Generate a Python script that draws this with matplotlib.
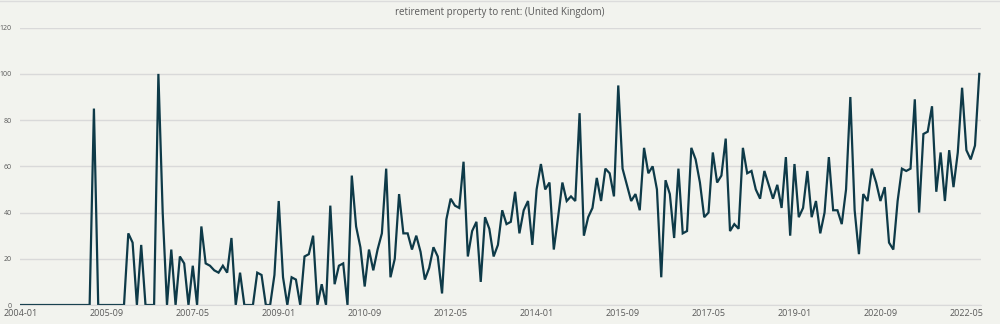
import matplotlib
matplotlib.use("Agg")
import matplotlib.pyplot as plt
from matplotlib.lines import Line2D

# monthly search interest, 2004-01 .. 2022-08
values = [
    0, 0, 0, 0, 0, 0, 0, 0, 0, 0, 0, 0, 0, 0, 0, 0, 0, 85, 0, 0,
    0, 0, 0, 0, 0, 31, 27, 0, 26, 0, 0, 0, 100, 40, 0, 24, 0, 21, 18, 0,
    17, 0, 34, 18, 17, 15, 14, 17, 14, 29, 0, 14, 0, 0, 0, 14, 13, 0, 0, 13,
    45, 12, 0, 12, 11, 0, 21, 22, 30, 0, 9, 0, 43, 9, 17, 18, 0, 56, 34, 25,
    8, 24, 15, 24, 31, 59, 12, 20, 48, 31, 31, 24, 30, 23, 11, 16, 25, 21, 5, 37,
    46, 43, 42, 62, 21, 32, 36, 10, 38, 33, 21, 26, 41, 35, 36, 49, 31, 41, 45, 26,
    50, 61, 50, 53, 24, 38, 53, 45, 47, 45, 83, 30, 38, 42, 55, 45, 59, 57, 47, 95,
    59, 52, 45, 48, 41, 68, 57, 60, 50, 12, 54, 48, 29, 59, 31, 32, 68, 63, 53, 38,
    40, 66, 53, 56, 72, 32, 35, 33, 68, 57, 58, 50, 46, 58, 52, 46, 52, 42, 64, 30,
    61, 38, 42, 58, 38, 45, 31, 40, 64, 41, 41, 35, 50, 90, 41, 22, 48, 45, 59, 53,
    45, 51, 27, 24, 45, 59, 58, 59, 89, 40, 74, 75, 86, 49, 66, 45, 67, 51, 66, 94,
    67, 63, 69, 100,
]
tick_labels = ["2004-01", "2005-09", "2007-05", "2009-01", "2010-09", "2012-05",
               "2014-01", "2015-09", "2017-05", "2019-01", "2020-09", "2022-05"]
title = "retirement property to rent: (United Kingdom)"

bg = "#f2f3ee"
line_col = "#0e3a48"
text_col = "#595959"

plt.rcParams["font.family"] = ["Open Sans", "DejaVu Sans"]

fig = plt.figure(figsize=(10, 3.24), dpi=100, facecolor=bg)
ax = fig.add_axes([0.020, 0.0586, 0.961, 0.856], facecolor=bg)

x = list(range(len(values)))
ax.plot(x, values, color=line_col, linewidth=1.6, solid_joinstyle="miter")

ax.set_xlim(-0.2, len(values) - 0.6)
ax.set_ylim(0, 120)
ax.set_yticks(range(0, 121, 20))
ax.set_xticks(range(0, 20 * len(tick_labels), 20))
ax.set_xticklabels(tick_labels)
ax.grid(axis="y", color="#d9d9d9", linewidth=1)
ax.set_axisbelow(True)
ax.tick_params(axis="both", length=0, colors=text_col)
ax.tick_params(axis="y", labelsize=5, pad=6)
ax.tick_params(axis="x", labelsize=6.5, pad=3)
for s in ["top", "right", "left"]:
    ax.spines[s].set_visible(False)
ax.spines["bottom"].set_color("#d9d9d9")

fig.text(0.5, 0.962, title, ha="center", va="center", fontsize=7, color=text_col)
fig.add_artist(Line2D([0, 1], [0.997, 0.997], transform=fig.transFigure,
                      color="#dcdcdc", linewidth=1))

fig.savefig("out.png", dpi=100, facecolor=bg)
